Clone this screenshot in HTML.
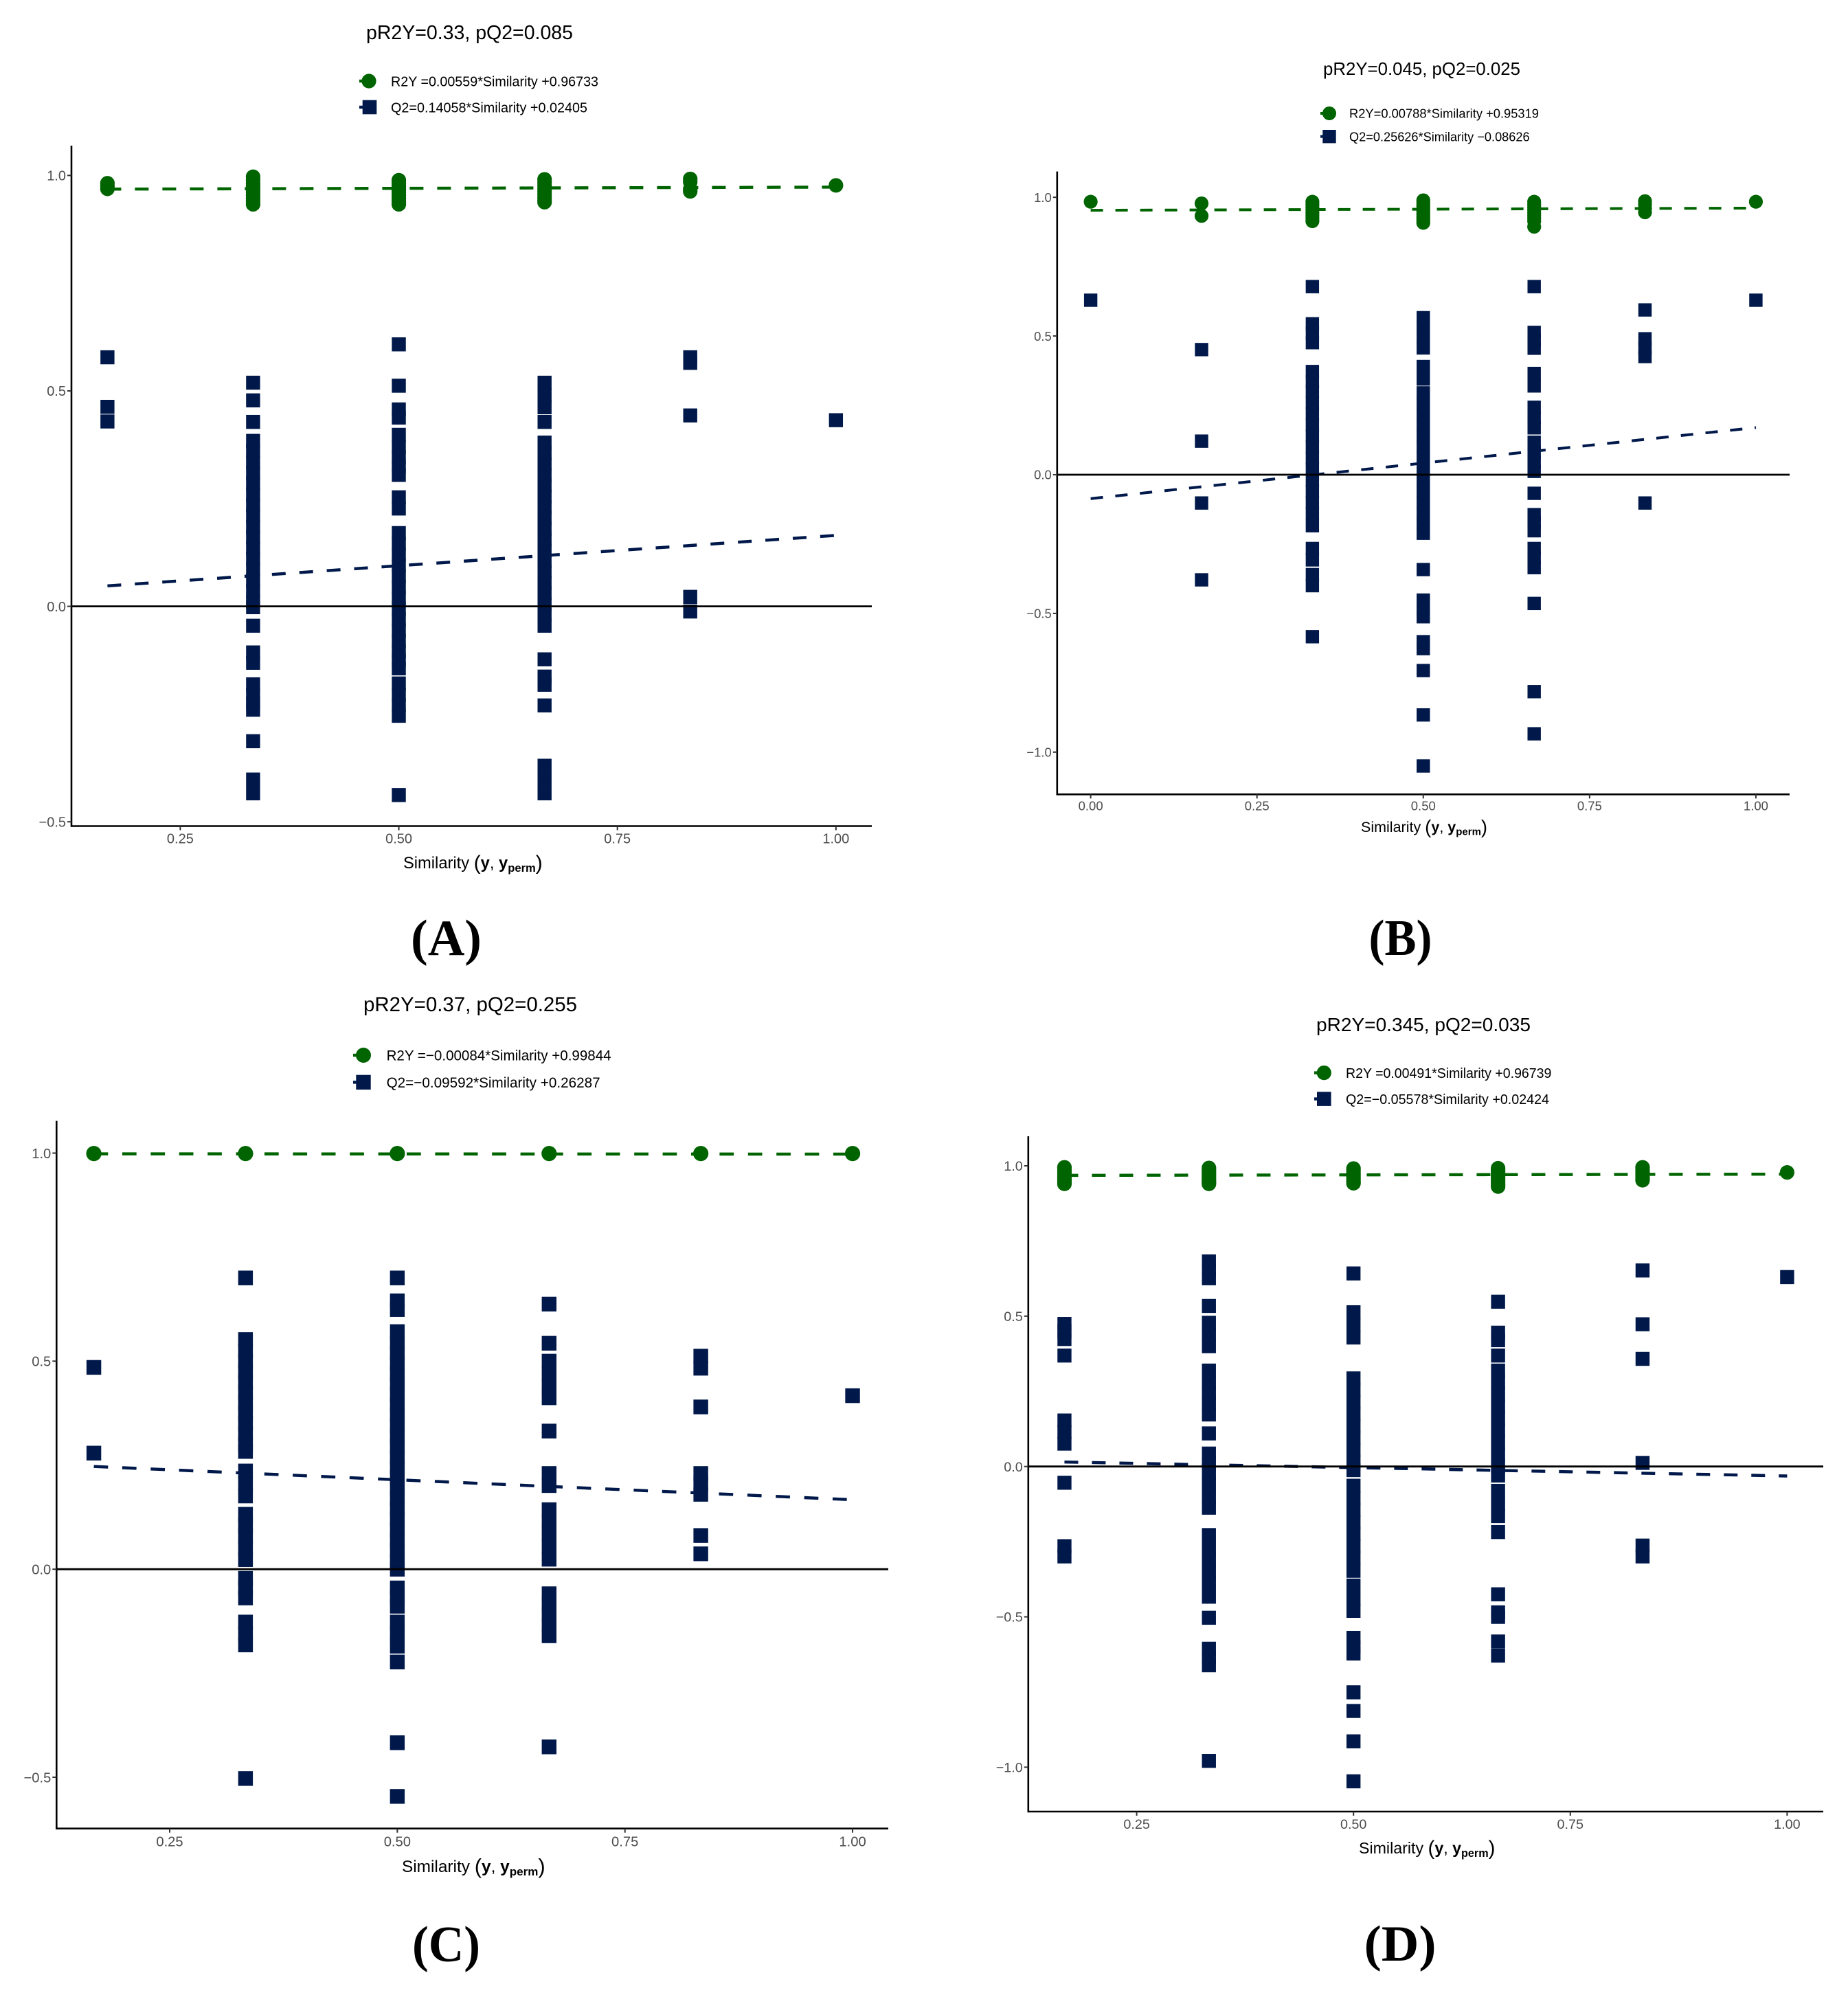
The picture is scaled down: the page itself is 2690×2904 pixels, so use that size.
<!DOCTYPE html>
<html>
<head>
<meta charset="utf-8">
<title>Permutation test plots</title>
<style>
html,body{margin:0;padding:0;background:#fff;}
svg{display:block;}
text{font-family:"Liberation Sans",Arial,sans-serif;fill:#000;}
.panel-letter{font-family:"Liberation Serif",serif;font-weight:bold;}
.bd{font-weight:bold;}
</style>
</head>
<body>
<svg id="figure" xmlns="http://www.w3.org/2000/svg" width="2690" height="2904" viewBox="0 0 2690 2904">
<rect x="0" y="0" width="2690" height="2904" fill="#fff"/>

<g id="panelA"></g>
<g id="panelB"></g>
<g id="panelC"></g>
<g id="panelD"></g>

<!-- Panel A text -->
<text x="533" y="57" font-size="28.5" textLength="301" lengthAdjust="spacingAndGlyphs">pR2Y=0.33, pQ2=0.085</text>
<line x1="523" x2="537" y1="118" y2="118" stroke="#006400" stroke-width="4.4"/>
<circle cx="537" cy="118" r="10.6" fill="#006400"/>
<text x="569" y="125.5" font-size="20.3" textLength="302" lengthAdjust="spacingAndGlyphs">R2Y =0.00559*Similarity +0.96733</text>
<line x1="523" x2="538" y1="156" y2="156" stroke="#00184A" stroke-width="4.4"/>
<rect x="527.7" y="145.7" width="20.6" height="20.6" fill="#00184A"/>
<text x="569" y="163.5" font-size="20.3" textLength="286" lengthAdjust="spacingAndGlyphs">Q2=0.14058*Similarity +0.02405</text>
<text x="587" y="1264" font-size="23.7">Similarity <tspan font-size="30" dy="2">(</tspan><tspan class="bd" dy="-2">y</tspan>, <tspan class="bd">y</tspan><tspan class="bd" font-size="16.6" dy="5">perm</tspan><tspan font-size="30" dy="-3">)</tspan></text>
<text class="panel-letter" x="598" y="1390" font-size="74" textLength="103" lengthAdjust="spacingAndGlyphs">(A)</text>

<!-- Panel B text -->
<text x="1926" y="109" font-size="25.8" textLength="287" lengthAdjust="spacingAndGlyphs">pR2Y=0.045, pQ2=0.025</text>
<line x1="1922" x2="1935" y1="165" y2="165" stroke="#006400" stroke-width="4"/>
<circle cx="1935" cy="165" r="10" fill="#006400"/>
<text x="1964" y="171.7" font-size="18.6" textLength="276" lengthAdjust="spacingAndGlyphs">R2Y=0.00788*Similarity +0.95319</text>
<line x1="1922" x2="1935" y1="198.7" y2="198.7" stroke="#00184A" stroke-width="4"/>
<rect x="1925.3" y="189" width="19.4" height="19.4" fill="#00184A"/>
<text x="1964" y="205.4" font-size="18.6" textLength="262.6" lengthAdjust="spacingAndGlyphs">Q2=0.25626*Similarity −0.08626</text>
<text x="1981" y="1211" font-size="21.5">Similarity <tspan font-size="27.5" dy="2">(</tspan><tspan class="bd" dy="-2">y</tspan>, <tspan class="bd">y</tspan><tspan class="bd" font-size="15" dy="4.5">perm</tspan><tspan font-size="27.5" dy="-2.5">)</tspan></text>
<text class="panel-letter" x="1992.5" y="1390" font-size="74" textLength="92" lengthAdjust="spacingAndGlyphs">(B)</text>

<!-- Panel C text -->
<text x="529" y="1472" font-size="29.4" textLength="311" lengthAdjust="spacingAndGlyphs">pR2Y=0.37, pQ2=0.255</text>
<line x1="514" x2="529" y1="1536" y2="1536" stroke="#006400" stroke-width="4.4"/>
<circle cx="529" cy="1536" r="11" fill="#006400"/>
<text x="562.6" y="1543.6" font-size="21.2" textLength="327" lengthAdjust="spacingAndGlyphs">R2Y =−0.00084*Similarity +0.99844</text>
<line x1="514" x2="529" y1="1575.4" y2="1575.4" stroke="#00184A" stroke-width="4.4"/>
<rect x="518.3" y="1564.7" width="21.4" height="21.4" fill="#00184A"/>
<text x="562.6" y="1583" font-size="21.2" textLength="311" lengthAdjust="spacingAndGlyphs">Q2=−0.09592*Similarity +0.26287</text>
<text x="585" y="2725" font-size="24.4">Similarity <tspan font-size="31" dy="2">(</tspan><tspan class="bd" dy="-2">y</tspan>, <tspan class="bd">y</tspan><tspan class="bd" font-size="17" dy="5">perm</tspan><tspan font-size="31" dy="-3">)</tspan></text>
<text class="panel-letter" x="600" y="2855" font-size="74" textLength="99" lengthAdjust="spacingAndGlyphs">(C)</text>

<!-- Panel D text -->
<text x="1916" y="1501" font-size="28" textLength="312" lengthAdjust="spacingAndGlyphs">pR2Y=0.345, pQ2=0.035</text>
<line x1="1913" x2="1927" y1="1561.6" y2="1561.6" stroke="#006400" stroke-width="4.4"/>
<circle cx="1927.3" cy="1561.6" r="10.6" fill="#006400"/>
<text x="1959" y="1569" font-size="20.2" textLength="299.4" lengthAdjust="spacingAndGlyphs">R2Y =0.00491*Similarity +0.96739</text>
<line x1="1913" x2="1927" y1="1599.6" y2="1599.6" stroke="#00184A" stroke-width="4.4"/>
<rect x="1917" y="1589.3" width="20.6" height="20.6" fill="#00184A"/>
<text x="1959" y="1607" font-size="20.2" textLength="296" lengthAdjust="spacingAndGlyphs">Q2=−0.05578*Similarity +0.02424</text>
<text x="1978" y="2698" font-size="23.2">Similarity <tspan font-size="29.5" dy="2">(</tspan><tspan class="bd" dy="-2">y</tspan>, <tspan class="bd">y</tspan><tspan class="bd" font-size="16.2" dy="5">perm</tspan><tspan font-size="29.5" dy="-3">)</tspan></text>
<text class="panel-letter" x="1985.6" y="2854" font-size="74" textLength="105" lengthAdjust="spacingAndGlyphs">(D)</text>
</svg>

<script>
// Categories
const similaritySix = [0.1667, 0.3333, 0.5, 0.6667, 0.8333, 1];
const similaritySeven = [0, 0.1667, 0.3333, 0.5, 0.6667, 0.8333, 1];

// Tick values and labels
const xTicksFour = [0.25, 0.5, 0.75, 1];
const xTickLabelsFour = ['0.25', '0.50', '0.75', '1.00'];
const xTicksFive = [0, 0.25, 0.5, 0.75, 1];
const xTickLabelsFive = ['0.00', '0.25', '0.50', '0.75', '1.00'];
const yTicksAC = [-0.5, 0, 0.5, 1];
const yTickLabelsAC = ['−0.5', '0.0', '0.5', '1.0'];
const yTicksBD = [-1, -0.5, 0, 0.5, 1];
const yTickLabelsBD = ['−1.0', '−0.5', '0.0', '0.5', '1.0'];

// Panel A series
const panelAR2Y = [
  [0.982, 0.975, 0.969],
  [0.997, 0.99, 0.982, 0.975, 0.968, 0.961, 0.954, 0.947, 0.94, 0.933],
  [0.989, 0.982, 0.975, 0.968, 0.961, 0.954, 0.947, 0.94, 0.933],
  [0.991, 0.984, 0.977, 0.97, 0.963, 0.956, 0.949, 0.943, 0.938],
  [0.992, 0.985, 0.968, 0.963],
  [0.977]
];
const panelAQ2 = [
  [0.578, 0.463, 0.429],
  [0.519, 0.478, 0.428, 0.384, 0.36, 0.335, 0.31, 0.285, 0.26, 0.235, 0.21, 0.185, 0.16, 0.135, 0.11, 0.085, 0.06, 0.035, 0.01, -0.002, -0.045, -0.107, -0.131, -0.181, -0.205, -0.225, -0.24, -0.313, -0.402, -0.434],
  [0.608, 0.512, 0.457, 0.438, 0.398, 0.37, 0.345, 0.325, 0.305, 0.253, 0.227, 0.17, 0.145, 0.12, 0.095, 0.07, 0.045, 0.02, -0.005, -0.03, -0.055, -0.08, -0.105, -0.125, -0.144, -0.179, -0.205, -0.23, -0.254, -0.438],
  [0.519, 0.49, 0.462, 0.428, 0.38, 0.355, 0.33, 0.305, 0.28, 0.255, 0.23, 0.205, 0.18, 0.155, 0.13, 0.105, 0.08, 0.055, 0.03, 0.005, -0.02, -0.045, -0.123, -0.163, -0.182, -0.23, -0.37, -0.402, -0.434],
  [0.578, 0.565, 0.443, 0.022, -0.012],
  [0.432]
];
const panelAR2YFit = [0.00559, 0.96733];
const panelAQ2Fit = [0.14058, 0.02405];

// Panel B series
const panelBR2Y = [
  [0.984],
  [0.978, 0.933],
  [0.984, 0.974, 0.964, 0.954, 0.944, 0.934, 0.924, 0.914],
  [0.989, 0.979, 0.969, 0.959, 0.949, 0.939, 0.929, 0.919, 0.908],
  [0.984, 0.974, 0.964, 0.954, 0.944, 0.934, 0.924, 0.914, 0.894],
  [0.986, 0.974, 0.96, 0.946],
  [0.984]
];
const panelBQ2 = [
  [0.629],
  [0.451, 0.121, -0.102, -0.379],
  [0.678, 0.544, 0.51, 0.476, 0.372, 0.335, 0.3, 0.26, 0.22, 0.18, 0.14, 0.1, 0.06, 0.02, -0.02, -0.06, -0.1, -0.14, -0.184, -0.266, -0.307, -0.36, -0.40, -0.584],
  [0.566, 0.53, 0.49, 0.457, 0.39, 0.345, 0.295, 0.26, 0.22, 0.18, 0.14, 0.1, 0.06, 0.02, -0.02, -0.06, -0.1, -0.14, -0.175, -0.211, -0.342, -0.452, -0.49, -0.512, -0.602, -0.627, -0.706, -0.866, -1.05],
  [0.678, 0.513, 0.485, 0.456, 0.365, 0.32, 0.243, 0.205, 0.169, 0.117, 0.08, 0.045, 0.012, -0.067, -0.144, -0.173, -0.202, -0.266, -0.3, -0.335, -0.464, -0.782, -0.934],
  [0.594, 0.49, 0.455, 0.426, -0.102],
  [0.629]
];
const panelBR2YFit = [0.00788, 0.95319];
const panelBQ2Fit = [0.25626, -0.08626];

// Panel C series
const panelCR2Y = [[0.999], [0.999], [0.999], [0.999], [0.999], [0.999]];
const panelCQ2 = [
  [0.485, 0.279],
  [0.700, 0.552, 0.525, 0.5, 0.475, 0.45, 0.425, 0.4, 0.375, 0.35, 0.325, 0.3, 0.283, 0.236, 0.206, 0.176, 0.132, 0.105, 0.08, 0.05, 0.023, -0.022, -0.045, -0.069, -0.127, -0.155, -0.182, -0.503],
  [0.700, 0.645, 0.624, 0.571, 0.545, 0.52, 0.495, 0.47, 0.445, 0.42, 0.395, 0.37, 0.345, 0.32, 0.295, 0.27, 0.245, 0.22, 0.195, 0.17, 0.145, 0.12, 0.095, 0.07, 0.045, 0.02, 0, -0.045, -0.067, -0.089, -0.127, -0.155, -0.185, -0.223, -0.417, -0.546],
  [0.637, 0.543, 0.5, 0.47, 0.44, 0.412, 0.332, 0.23, 0.201, 0.143, 0.115, 0.085, 0.055, 0.024, -0.059, -0.085, -0.11, -0.135, -0.16, -0.427],
  [0.512, 0.483, 0.39, 0.23, 0.205, 0.18, 0.081, 0.037],
  [0.417]
];
const panelCR2YFit = [-0.00084, 0.99844];
const panelCQ2Fit = [-0.09592, 0.26287];

// Panel D series
const panelDR2Y = [
  [0.995, 0.987, 0.98, 0.972, 0.965, 0.957, 0.95, 0.944, 0.94],
  [0.993, 0.985, 0.978, 0.97, 0.963, 0.955, 0.948, 0.944, 0.94],
  [0.991, 0.984, 0.976, 0.969, 0.961, 0.954, 0.947, 0.942],
  [0.992, 0.984, 0.977, 0.969, 0.961, 0.953, 0.945, 0.937, 0.931],
  [0.995, 0.987, 0.979, 0.971, 0.963, 0.956, 0.952],
  [0.978]
];
const panelDQ2 = [
  [0.474, 0.45, 0.424, 0.369, 0.153, 0.115, 0.076, -0.054, -0.265, -0.299],
  [0.682, 0.655, 0.626, 0.534, 0.478, 0.44, 0.40, 0.319, 0.28, 0.245, 0.21, 0.173, 0.11, 0.043, 0.01, -0.025, -0.06, -0.1, -0.137, -0.228, -0.27, -0.31, -0.35, -0.39, -0.433, -0.503, -0.606, -0.635, -0.661, -0.979],
  [0.642, 0.513, 0.47, 0.429, 0.293, 0.255, 0.215, 0.175, 0.135, 0.095, 0.055, 0.015, -0.012, -0.064, -0.105, -0.145, -0.185, -0.225, -0.265, -0.305, -0.347, -0.396, -0.44, -0.48, -0.57, -0.6, -0.622, -0.751, -0.813, -0.914, -1.047],
  [0.548, 0.445, 0.42, 0.369, 0.319, 0.28, 0.24, 0.2, 0.16, 0.12, 0.08, 0.04, 0, -0.03, -0.081, -0.125, -0.165, -0.218, -0.425, -0.485, -0.5, -0.582, -0.629],
  [0.652, 0.473, 0.358, 0.012, -0.263, -0.299],
  [0.63]
];
const panelDR2YFit = [0.00491, 0.96739];
const panelDQ2Fit = [-0.05578, 0.02424];

const GREEN = '#006400';
const NAVY = '#00184A';
const NS = 'http://www.w3.org/2000/svg';

function make(parent, tag, attrs) {
  const el = document.createElementNS(NS, tag);
  Object.keys(attrs).forEach(function (k) { el.setAttribute(k, attrs[k]); });
  parent.appendChild(el);
  return el;
}

function drawPanel(p) {
  const root = document.getElementById(p.id);
  const xScale = function (v) { return p.xAnchor + (v - 0.25) * p.xUnit; };
  const yScale = function (v) { return p.y0 - v * p.yUnit; };
  const half = p.size / 2;

  // Points: R2Y circles
  p.r2y.forEach(function (col, i) {
    col.forEach(function (v) {
      const el = make(root, 'circle', { cx: xScale(p.cats[i]), cy: yScale(v), r: half + 0.6, fill: GREEN });
      
      
    });
  });

  // Points: Q2 squares
  p.q2.forEach(function (col, i) {
    col.forEach(function (v) {
      const el = make(root, 'rect', { x: xScale(p.cats[i]) - half - 0.2, y: yScale(v) - half - 0.2, width: p.size + 0.4, height: p.size + 0.4, fill: NAVY });
      
      
    });
  });

  // Fit lines
  const xa = p.cats[0];
  const xb = p.cats[p.cats.length - 1];
  const r2yLine = make(root, 'line', {
    x1: xScale(xa), x2: xScale(xb),
    y1: yScale(p.r2yFit[0] * xa + p.r2yFit[1]), y2: yScale(p.r2yFit[0] * xb + p.r2yFit[1]),
    stroke: GREEN, 'stroke-width': p.lw, 'stroke-dasharray': p.dash + ' ' + p.dash
  });
  
  
  const q2Line = make(root, 'line', {
    x1: xScale(xa), x2: xScale(xb),
    y1: yScale(p.q2Fit[0] * xa + p.q2Fit[1]), y2: yScale(p.q2Fit[0] * xb + p.q2Fit[1]),
    stroke: NAVY, 'stroke-width': p.lw, 'stroke-dasharray': p.dash + ' ' + p.dash
  });
  
  

  // Zero reference line
  const zero = make(root, 'line', { x1: p.axisX, x2: p.right, y1: yScale(0), y2: yScale(0), stroke: '#000', 'stroke-width': 2.8 });
  
  

  // Axes
  const yAxis = make(root, 'line', { x1: p.axisX, x2: p.axisX, y1: p.top, y2: p.bottom + 1.3, stroke: '#000', 'stroke-width': 2.6 });
  
  
  const xAxis = make(root, 'line', { x1: p.axisX, x2: p.right, y1: p.bottom, y2: p.bottom, stroke: '#000', 'stroke-width': 2.6 });
  
  

  // X ticks
  p.xTicks.forEach(function (v, i) {
    const t = make(root, 'line', { x1: xScale(v), x2: xScale(v), y1: p.bottom, y2: p.bottom + 6, stroke: '#333', 'stroke-width': 2 });
    
    
    const lab = make(root, 'text', { x: xScale(v), y: p.xLabelY + p.tickFont * 0.36, 'text-anchor': 'middle', 'font-size': p.tickFont, style: 'fill:#4d4d4d' });
    lab.textContent = p.xLabels[i];
    
    
  });

  // Y ticks
  p.yTicks.forEach(function (v, i) {
    const t = make(root, 'line', { x1: p.axisX - 6, x2: p.axisX, y1: yScale(v), y2: yScale(v), stroke: '#333', 'stroke-width': 2 });
    
    
    const lab = make(root, 'text', { x: p.axisX - 8, y: yScale(v) + p.tickFont * 0.36, 'text-anchor': 'end', 'font-size': p.tickFont, style: 'fill:#4d4d4d' });
    lab.textContent = p.yLabels[i];
    
    
  });
}

drawPanel({ id: 'panelA', cats: similaritySix, r2y: panelAR2Y, q2: panelAQ2, r2yFit: panelAR2YFit, q2Fit: panelAQ2Fit,
  xTicks: xTicksFour, xLabels: xTickLabelsFour, yTicks: yTicksAC, yLabels: yTickLabelsAC,
  axisX: 104, top: 212, bottom: 1202.5, right: 1269, xAnchor: 262.4, xUnit: 1272.6, y0: 882.6, yUnit: 627.2,
  size: 20, lw: 4.4, dash: 20, tickFont: 20, xLabelY: 1220.4 });
drawPanel({ id: 'panelB', cats: similaritySeven, r2y: panelBR2Y, q2: panelBQ2, r2yFit: panelBR2YFit, q2Fit: panelBQ2Fit,
  xTicks: xTicksFive, xLabels: xTickLabelsFive, yTicks: yTicksBD, yLabels: yTickLabelsBD,
  axisX: 1538.8, top: 249.6, bottom: 1156.3, right: 2605, xAnchor: 1829.7, xUnit: 968.3, y0: 691, yUnit: 403.8,
  size: 19, lw: 4, dash: 18, tickFont: 18.5, xLabelY: 1172.6 });
drawPanel({ id: 'panelC', cats: similaritySix, r2y: panelCR2Y, q2: panelCQ2, r2yFit: panelCR2YFit, q2Fit: panelCQ2Fit,
  xTicks: xTicksFour, xLabels: xTickLabelsFour, yTicks: yTicksAC, yLabels: yTickLabelsAC,
  axisX: 82.3, top: 1631.6, bottom: 2661.7, right: 1293, xAnchor: 247, xUnit: 1325.4, y0: 2284.2, yUnit: 605.7,
  size: 21, lw: 4.4, dash: 20.7, tickFont: 20.2, xLabelY: 2680.4 });
drawPanel({ id: 'panelD', cats: similaritySix, r2y: panelDR2Y, q2: panelDQ2, r2yFit: panelDR2YFit, q2Fit: panelDQ2Fit,
  xTicks: xTicksFour, xLabels: xTickLabelsFour, yTicks: yTicksBD, yLabels: yTickLabelsBD,
  axisX: 1496.8, top: 1654, bottom: 2637, right: 2654, xAnchor: 1654.6, xUnit: 1262.4, y0: 2134.7, yUnit: 437.7,
  size: 20, lw: 4.4, dash: 20, tickFont: 19.8, xLabelY: 2655 });
</script>
</body>
</html>
